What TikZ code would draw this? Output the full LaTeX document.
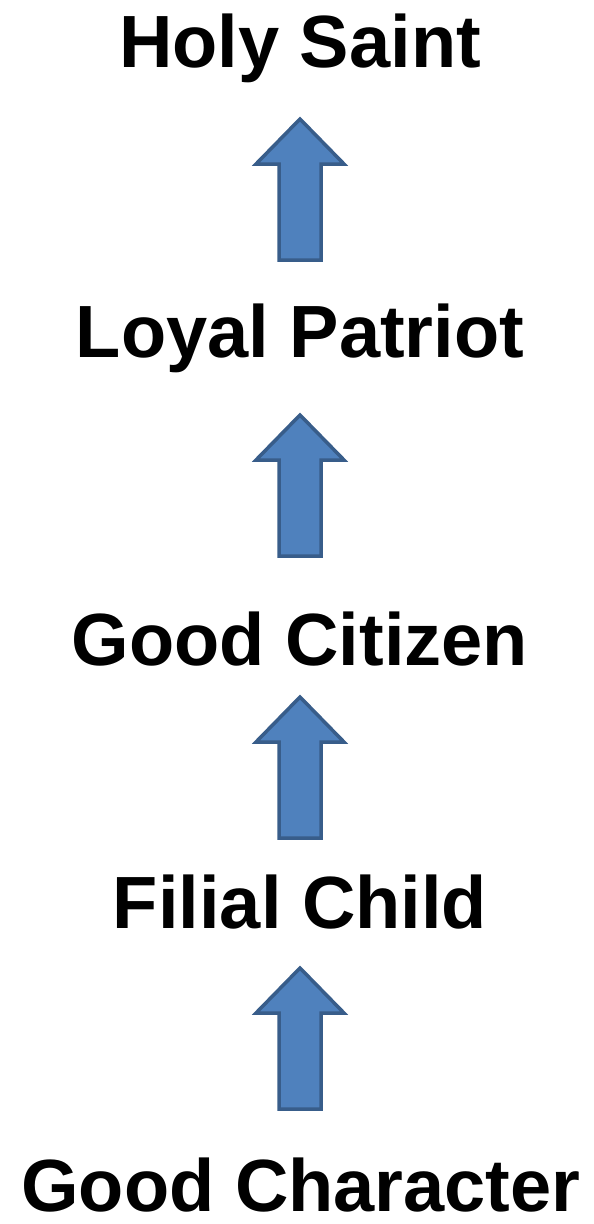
\documentclass[tikz,border=0pt]{standalone}
\usepackage{fontspec}
\setmainfont{Liberation Sans}
\definecolor{arrfill}{HTML}{4F81BD}
\definecolor{arrline}{HTML}{385D8A}
\begin{document}
\begin{tikzpicture}[x=1pt,y=-1pt,
  label/.style={anchor=base,inner sep=0pt,font=\fontsize{74}{80}\selectfont\bfseries},
  uparrow/.pic={\draw[fill=arrfill,draw=arrline,line width=3.5pt,line join=miter]
     (0,0) -- (44,45) -- (21,45) -- (21,141) -- (-21,141) -- (-21,45) -- (-44,45) -- cycle;}]
\useasboundingbox (0,0) rectangle (594,1224);
\node[label] (hs) at (300,67) {Holy Saint};
\node[label] (lp) at (300,357) {Loyal Patriot};
\node[label] (gc) at (300,665) {Good Citizen};
\node[label] (fc) at (300,928) {Filial Child};
\node[label] (gch) at (301,1211) {Good Character};
\pic at (300,119) {uparrow};
\pic at (300,415) {uparrow};
\pic at (300,697) {uparrow};
\pic at (300,968) {uparrow};
\end{tikzpicture}
\end{document}
